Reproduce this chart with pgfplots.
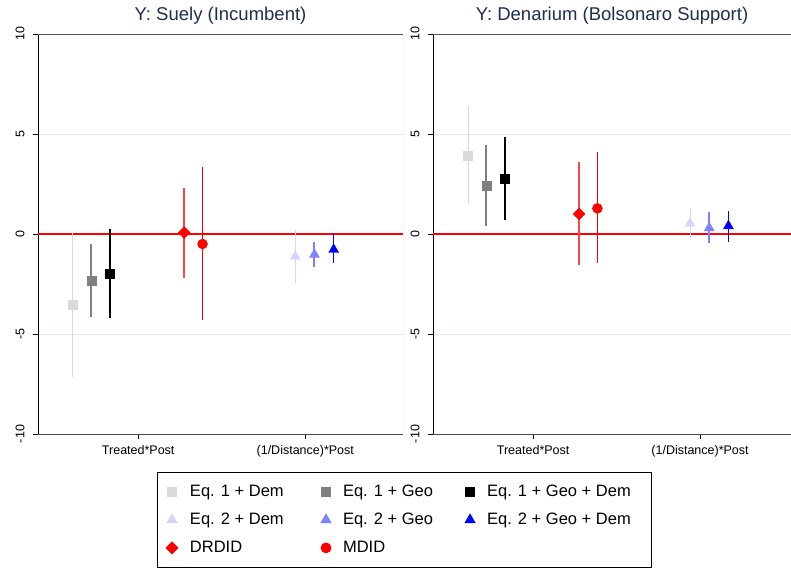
\documentclass[border=0pt]{standalone}
\usepackage{fontspec}
\setmainfont{Liberation Sans}
\usepackage{pgfplots}
\pgfplotsset{compat=1.18}

\definecolor{lgray}{RGB}{217,217,217}
\definecolor{mgray}{RGB}{128,128,128}
\definecolor{ltri}{RGB}{212,212,255}
\definecolor{mtri}{RGB}{128,128,255}
\definecolor{ttl}{RGB}{30,45,80}
\definecolor{gridc}{RGB}{228,236,238}
\definecolor{lred}{RGB}{255,70,70}
\definecolor{zred}{RGB}{255,0,0}

\newcommand{\lentry}[2]{\makebox[#1][l]{\vphantom{Eq}#2}}

\pgfplotsset{
  panel/.style={
    scale only axis, height=400pt,
    ymin=-10, ymax=10, xmin=0.4,
    axis x line*=bottom, axis y line*=left, axis line style={-},
    x axis line style={draw=black!70, line width=0.8pt},
    y axis line style={draw=black, line width=1pt},
    ytick={-10,-5,0,5,10}, xtick={1,2},
    xticklabels={Treated*Post,(1/Distance)*Post},
    tick align=outside, major tick length=5pt,
    tick style={black, line width=0.8pt},
    ymajorgrids, grid style={gridc, line width=0.6pt},
    yticklabel style={xshift=-5pt, rotate=90, anchor=south},
    xticklabel style={yshift=-3pt},
    ticklabel style={font=\fontsize{12.5}{15}\selectfont},
    /pgf/number format/assume math mode=true,
    title style={font=\fontsize{18.5}{22}\selectfont, color=ttl},
    legend image code/.code={\draw[##1, only marks] plot coordinates {(0pt,0pt)};},
  },
  ci/.style={error bars/y dir=both, error bars/y explicit,
    error bars/error mark=none, error bars/error bar style={#1}},
  sq/.style={only marks, mark=square*, mark size=4.5pt, color=#1},
  tri/.style={only marks, mark=triangle*, mark size=5.8pt, color=#1},
  zero/.style={draw=zred, line width=1.4pt, mark=none, forget plot},
}

\begin{document}
\begin{tikzpicture}
\path[use as bounding box] (0,0) rectangle (791pt,569pt);

% left panel
\begin{axis}[panel, at={(38pt,135pt)}, anchor=south west,
  width=365pt, xmax=2.585,
  title={Y: Suely (Incumbent)},
  legend columns=3,
  legend cell align=left,
  legend style={at={(1.003,-0.095)}, anchor=north, draw=black, line width=0.8pt,
    font=\fontsize{16.5}{20}\selectfont, inner xsep=9pt, inner ysep=11pt,
    row sep=11pt, column sep=10pt, nodes={inner sep=2pt},
    /tikz/every even column/.append style={column sep=30pt}},
]
\addplot[zero] coordinates {(0.4,0) (2.585,0)};
\addplot[sq=lgray, ci={lgray, line width=1pt}] coordinates {(0.605,-3.55) += (0,3.60) -= (0,3.58)};
\addlegendentry{\lentry{99pt}{Eq. 1 + Dem}}
\addplot[sq=mgray, ci={mgray, line width=2pt}] coordinates {(0.72,-2.33) += (0,1.83) -= (0,1.80)};
\addlegendentry{\lentry{90pt}{Eq. 1 + Geo}}
\addplot[sq=black, ci={black, line width=1.5pt}] coordinates {(0.83,-1.98) += (0,2.21) -= (0,2.20)};
\addlegendentry{\lentry{153pt}{Eq. 1 + Geo + Dem}}
\addplot[tri=ltri, ci={ltri, line width=1pt}] coordinates {(1.94,-1.12) += (0,1.32) -= (0,1.31)};
\addlegendentry{\lentry{99pt}{Eq. 2 + Dem}}
\addplot[tri=mtri, ci={mtri, line width=2pt}] coordinates {(2.055,-1.03) += (0,0.61) -= (0,0.64)};
\addlegendentry{\lentry{90pt}{Eq. 2 + Geo}}
\addplot[tri=blue, ci={blue, line width=1.5pt}] coordinates {(2.17,-0.78) += (0,0.81) -= (0,0.69)};
\addlegendentry{\lentry{153pt}{Eq. 2 + Geo + Dem}}
\addplot[only marks, mark=square*, mark size=4.2pt, mark options={rotate=45}, color=red, ci={lred, line width=2pt}] coordinates {(1.275,0.07) += (0,2.25) -= (0,2.25)};
\addlegendentry{\lentry{99pt}{DRDID}}
\addplot[only marks, mark=*, mark size=5pt, color=red, ci={red, line width=1.5pt}] coordinates {(1.385,-0.5) += (0,3.83) -= (0,3.80)};
\addlegendentry{\lentry{90pt}{MDID}}
\draw[black!65, line width=0.8pt] (rel axis cs:0,1) -- (rel axis cs:1,1);
\draw[black!25, line width=0.8pt] (rel axis cs:1,0) -- (rel axis cs:1,1);
\end{axis}

% right panel
\begin{axis}[panel, at={(433pt,135pt)}, anchor=south west,
  width=358pt, xmax=2.545,
  title={Y: Denarium (Bolsonaro Support)},
]
\addplot[zero] coordinates {(0.4,0) (2.545,0)};
\addplot[sq=lgray, ci={lgray, line width=1pt}] coordinates {(0.61,3.93) += (0,2.47) -= (0,2.43)};
\addplot[sq=mgray, ci={mgray, line width=2pt}] coordinates {(0.72,2.42) += (0,2.03) -= (0,2.02)};
\addplot[sq=black, ci={black, line width=1.5pt}] coordinates {(0.83,2.78) += (0,2.09) -= (0,2.08)};
\addplot[tri=ltri, ci={ltri, line width=1pt}] coordinates {(1.94,0.52) += (0,0.73) -= (0,0.74)};
\addplot[tri=mtri, ci={mtri, line width=2pt}] coordinates {(2.055,0.30) += (0,0.78) -= (0,0.77)};
\addplot[tri=blue, ci={blue, line width=1.5pt}] coordinates {(2.17,0.40) += (0,0.77) -= (0,0.78)};
\addplot[only marks, mark=square*, mark size=4.2pt, mark options={rotate=45}, color=red, ci={lred, line width=2pt}] coordinates {(1.275,1.0) += (0,2.58) -= (0,2.55)};
\addplot[only marks, mark=*, mark size=5pt, color=red, ci={red, line width=1.5pt}] coordinates {(1.385,1.28) += (0,2.80) -= (0,2.75)};
\draw[black!65, line width=0.8pt] (rel axis cs:0,1) -- (rel axis cs:1,1);
\end{axis}
\end{tikzpicture}
\end{document}
